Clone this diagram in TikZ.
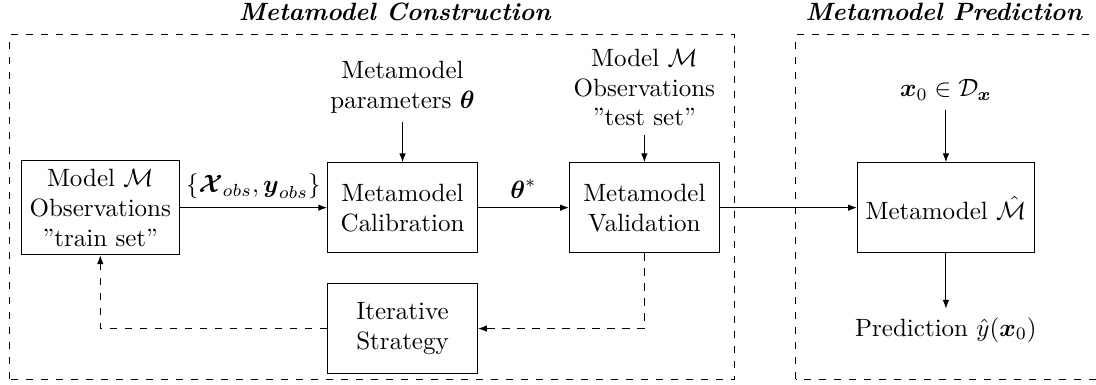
\documentclass[tikz,border=0pt]{standalone}
\usepackage{amsmath,amssymb}
\usepackage{xcolor}
\usepackage{tikz}
\usetikzlibrary{calc,arrows.meta}

\begin{document}
\begin{tikzpicture}[scale=1.0,
  block/.style={draw, align=center, minimum width=60pt, minimum height=36pt},
  txt/.style={align=center},
  region/.style={dashed},
  flow/.style={-{Latex[length=3.5pt,width=2.6pt]}},
  fback/.style={flow, dashed},
  heading/.style={font=\bfseries\itshape}]
  \useasboundingbox (0,0) rectangle (15.41,5.41);

  % dashed regions
  \coordinate (Ca) at (0.14,0.08);
  \coordinate (Cb) at (10.33,4.92);
  \coordinate (Pa) at (11.19,0.08);
  \coordinate (Pb) at (15.42,4.92);
  \draw[region] (Ca) rectangle (Cb);
  \draw[region] (Pa) rectangle (Pb);
  \node[heading] (constr) at (5.55,5.24) {Metamodel Construction};
  \node[heading] (predic) at (13.27,5.24) {Metamodel Prediction};

  % blocks
  \node[block] (train) at (1.41,2.49) {Model $\mathcal{M}$\\Observations\\''train set''};
  \node[block] (calib) at (5.66,2.49) {Metamodel\\Calibration};
  \node[block] (valid) at (9.06,2.49) {Metamodel\\Validation};
  \node[block] (iter)  at (5.66,0.79) {Iterative\\Strategy};
  \node[block] (meta)  at (13.30,2.49) {Metamodel $\hat{\mathcal{M}}$};

  % inputs and outputs
  \node[txt] (params) at (5.66,4.19) {Metamodel\\parameters $\boldsymbol{\theta}$};
  \node[txt] (test)   at (9.06,4.18) {Model $\mathcal{M}$\\Observations\\''test set''};
  \node[txt] (xin)    at (13.30,4.14) {$\boldsymbol{x}_0\in\mathcal{D}_{\boldsymbol{x}}$};
  \node[txt] (pred)   at (13.30,0.77) {Prediction $\hat{y}(\boldsymbol{x}_0)$};

  \draw[flow] (train) -- node[above] {$\{\boldsymbol{\mathcal{X}}_{obs},\boldsymbol{y}_{obs}\}$} (calib);
  \draw[flow] (calib) -- node[above] {$\boldsymbol{\theta}^{*}$} (valid);
  \draw[flow] (valid) -- (meta);
  \draw[flow] (params) -- (calib);
  \draw[flow] (test) -- (valid);
  \draw[flow] (xin) -- (meta);
  \draw[flow] (meta) -- (pred);

  \draw[fback] (valid.south) |- (iter.east);
  \draw[fback] (iter.west) -| (train.south);
\end{tikzpicture}
\end{document}
